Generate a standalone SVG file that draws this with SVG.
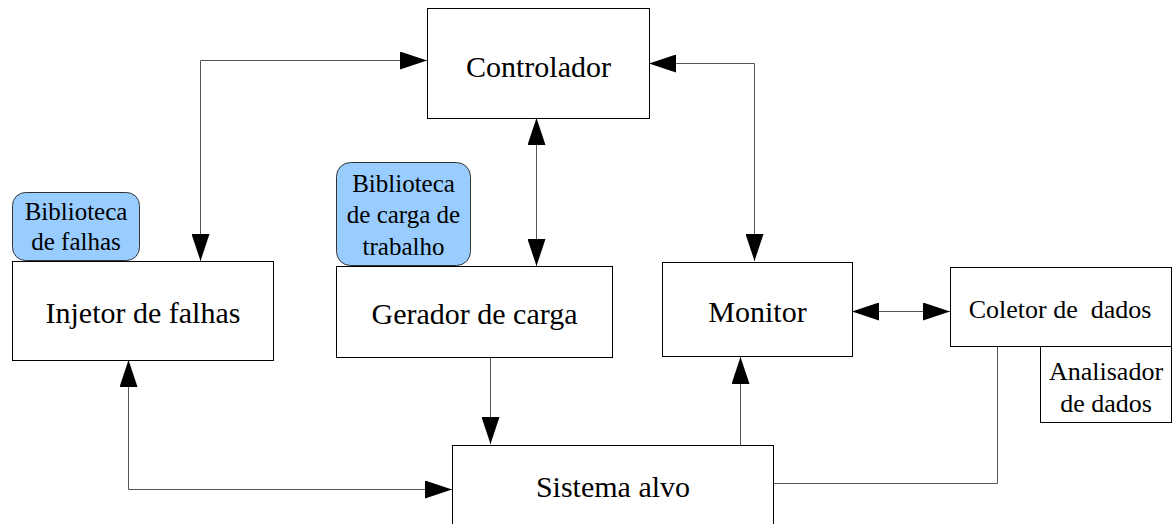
<svg xmlns="http://www.w3.org/2000/svg" width="1174" height="524" viewBox="0 0 1174 524">
<style>
.box{fill:#ffffff;stroke:#000000;stroke-width:1}
.lib{fill:#99ccff;stroke:#333333;stroke-width:1}
.c{fill:none;stroke:#555555;stroke-width:1}
.a2{marker-start:url(#ah);marker-end:url(#ah)}
.a1{marker-end:url(#ah)}
</style>
<defs>
<marker id="ah" viewBox="0 0 27 18" refX="27" refY="9" markerWidth="27" markerHeight="18" orient="auto-start-reverse" markerUnits="userSpaceOnUse">
<path d="M0,0 L27,9 L0,18 Z" fill="#000000"/>
</marker>
</defs>
<rect width="1174" height="524" fill="#ffffff"/>
<g id="connectors">
<path class="c a2" d="M427,60.5 H200.5 V261"/>
<path class="c a2" d="M536.5,118 V266"/>
<path class="c a2" d="M649,63.5 H754.5 V261"/>
<path class="c a2" d="M852,311.5 H950"/>
<path class="c a1" d="M490.5,357 V444"/>
<path class="c a1" d="M740.5,445 V357"/>
<path class="c a2" d="M128.5,360 V489.5 H452"/>
<path class="c" d="M773,483.5 H997.5 V346"/>
</g>
<g id="controlador">
<rect class="box" x="427.5" y="8.5" width="222" height="110"/>
<text x="538.5" y="77" text-anchor="middle" font-family="Liberation Serif" font-size="30">Controlador</text>
</g>
<g id="biblioteca-falhas">
<rect class="lib" x="12.5" y="192.5" width="127" height="68" rx="13" ry="13"/>
<text x="76" y="220" text-anchor="middle" font-family="Liberation Serif" font-size="25">Biblioteca</text>
<text x="76" y="250" text-anchor="middle" font-family="Liberation Serif" font-size="25">de falhas</text>
</g>
<g id="injetor">
<rect class="box" x="12.5" y="261.5" width="261" height="99"/>
<text x="143" y="323" text-anchor="middle" font-family="Liberation Serif" font-size="30">Injetor de falhas</text>
</g>
<g id="biblioteca-carga">
<rect class="lib" x="336.5" y="162.5" width="134" height="103" rx="14" ry="14"/>
<text x="403.5" y="192" text-anchor="middle" font-family="Liberation Serif" font-size="25">Biblioteca</text>
<text x="403.5" y="223" text-anchor="middle" font-family="Liberation Serif" font-size="25">de carga de</text>
<text x="403.5" y="255" text-anchor="middle" font-family="Liberation Serif" font-size="25">trabalho</text>
</g>
<g id="gerador">
<rect class="box" x="336.5" y="266.5" width="276" height="91"/>
<text x="474.5" y="324" text-anchor="middle" font-family="Liberation Serif" font-size="30">Gerador de carga</text>
</g>
<g id="monitor">
<rect class="box" x="662.5" y="262.5" width="190" height="94"/>
<text x="757.5" y="322" text-anchor="middle" font-family="Liberation Serif" font-size="30">Monitor</text>
</g>
<g id="coletor">
<rect class="box" x="950.5" y="267.5" width="221" height="79"/>
<text x="1060" y="318" text-anchor="middle" font-family="Liberation Serif" font-size="26">Coletor de&#160; dados</text>
</g>
<g id="analisador">
<rect class="box" x="1040.5" y="346.5" width="131" height="76"/>
<text x="1106" y="380" text-anchor="middle" font-family="Liberation Serif" font-size="26">Analisador</text>
<text x="1106" y="412" text-anchor="middle" font-family="Liberation Serif" font-size="26">de dados</text>
</g>
<g id="sistema">
<rect class="box" x="452.5" y="445.5" width="321" height="90"/>
<text x="613" y="497" text-anchor="middle" font-family="Liberation Serif" font-size="30">Sistema alvo</text>
</g>
</svg>
